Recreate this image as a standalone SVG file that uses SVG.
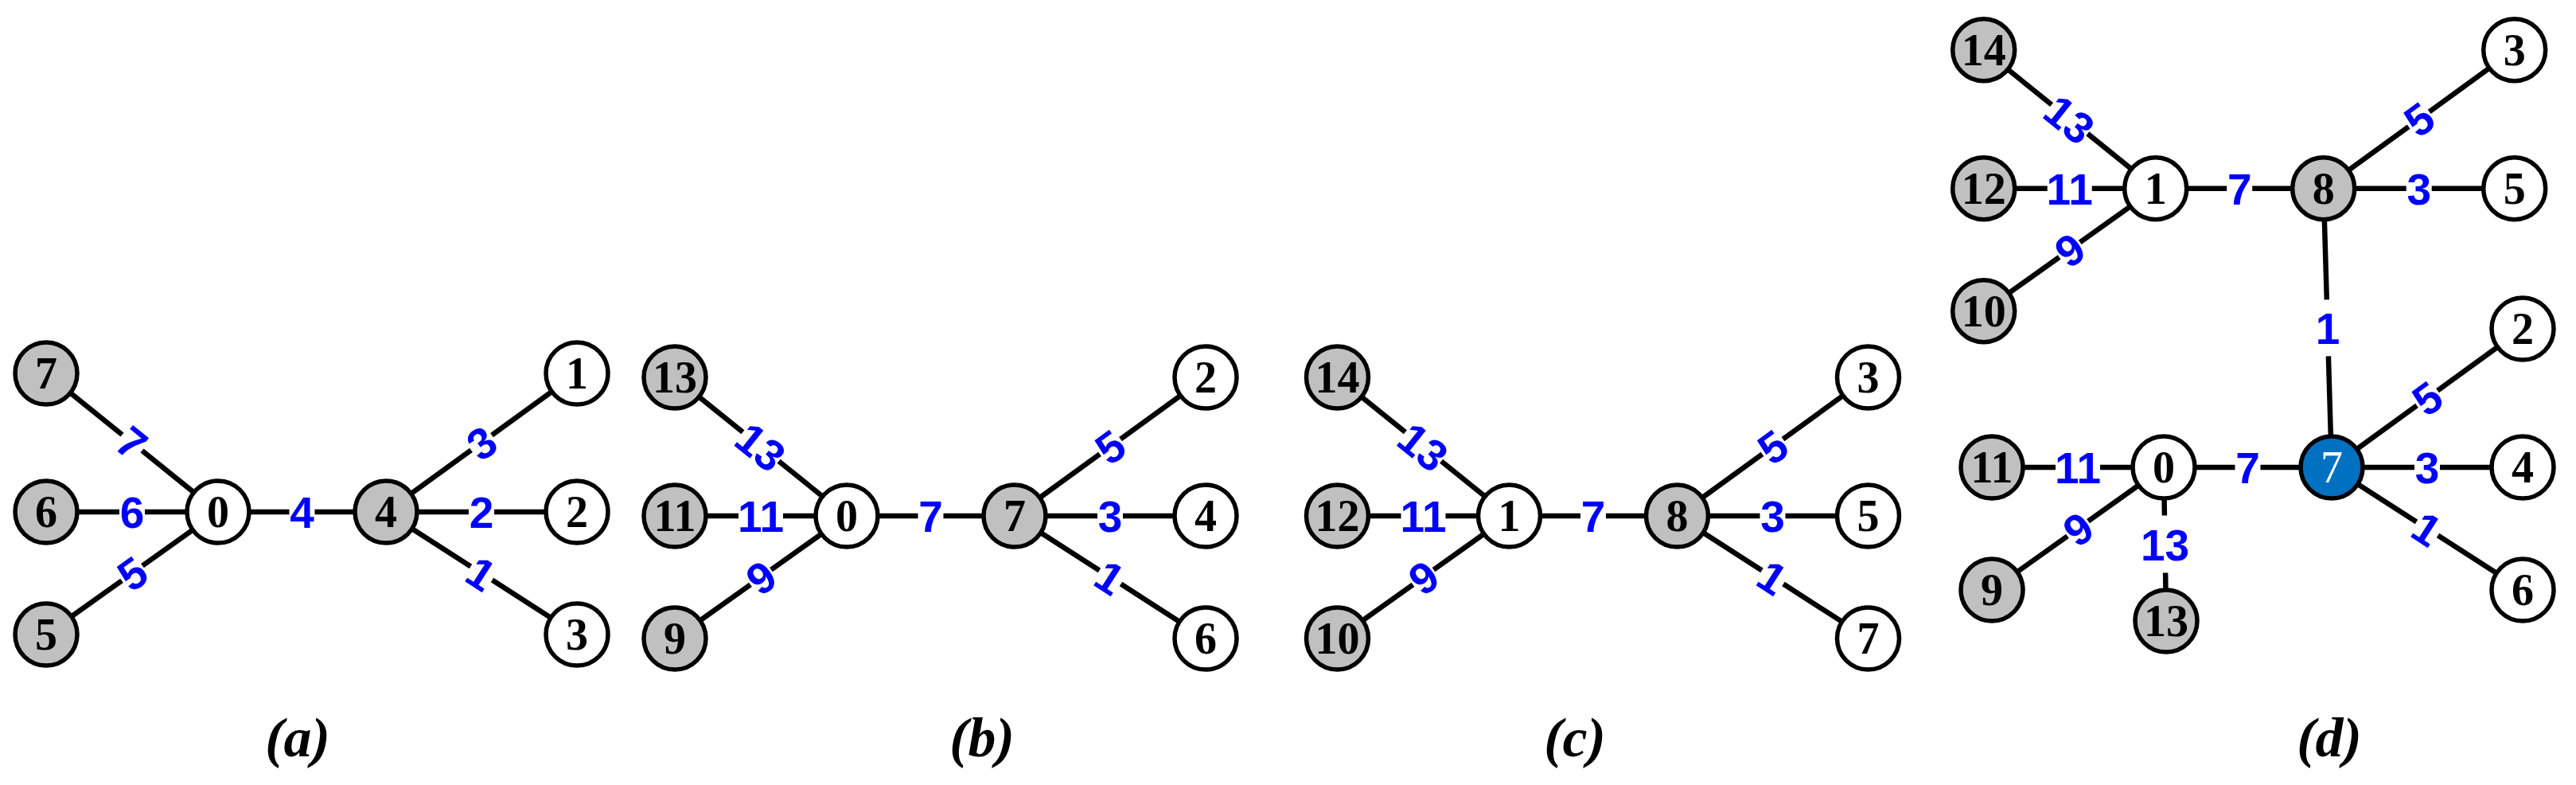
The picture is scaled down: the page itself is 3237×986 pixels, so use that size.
<svg xmlns="http://www.w3.org/2000/svg" width="3237" height="986" viewBox="0 0 3237 986">
<style>
.e{fill:none;stroke:#000;stroke-width:6.5}
.n{stroke:#000;stroke-width:5.5}
.g{fill:#C0C0C0}
.w{fill:#FFFFFF}
.b{fill:#0070C0}
.nt{font-family:"Liberation Serif","Times New Roman",serif;font-weight:bold;font-size:56px;text-anchor:middle;fill:#000}
.wt{fill:#FFFFFF;font-weight:normal}
.el{font-family:"Liberation Sans",Arial,sans-serif;font-weight:bold;font-size:55px;text-anchor:middle;fill:#0000FF}
.cap{font-family:"Liberation Serif","Times New Roman",serif;font-weight:bold;font-style:italic;font-size:70px;text-anchor:middle;fill:#000}
</style>
<rect width="3237" height="986" fill="#FFFFFF"/>

<!-- Panel (a) -->
<g id="panel-a" transform="translate(58,643)">
  <g id="a-connectors">
    <path class="e" d="M0,-174L95.5,-97M120.5,-77L216,0"/>
    <path class="e" d="M0,0L92,0M124,0L216,0"/>
    <path class="e" d="M0,154L95,86.3M121,67.7L216,0"/>
    <path class="e" d="M216,0L305.5,0M337.5,0L427,0"/>
    <path class="e" d="M427,0L534,-77.6M560,-96.4L667,-174"/>
    <path class="e" d="M427,0L531,0M563,0L667,0"/>
    <path class="e" d="M427,0L533.5,68.4M560.5,85.6L667,154"/>
    <text class="el" transform="translate(108,-87) rotate(38.86)" y="20">7</text>
    <text class="el" x="108" y="20">6</text>
    <text class="el" transform="translate(108,77) rotate(-35.49)" y="20">5</text>
    <text class="el" x="321.5" y="20">4</text>
    <text class="el" transform="translate(547,-87) rotate(-35.94)" y="20">3</text>
    <text class="el" x="547" y="20">2</text>
    <text class="el" transform="translate(547,77) rotate(32.69)" y="20">1</text>
  </g>
  <g id="a-n7"><circle class="n g" cx="0" cy="-174" r="39"/><text class="nt" x="0" y="-155">7</text></g>
  <g id="a-n6"><circle class="n g" cx="0" cy="0" r="39"/><text class="nt" x="0" y="19">6</text></g>
  <g id="a-n5"><circle class="n g" cx="0" cy="154" r="39"/><text class="nt" x="0" y="173">5</text></g>
  <g id="a-n0"><circle class="n w" cx="216" cy="0" r="39"/><text class="nt" x="216" y="19">0</text></g>
  <g id="a-n4"><circle class="n g" cx="427" cy="0" r="39"/><text class="nt" x="427" y="19">4</text></g>
  <g id="a-n1"><circle class="n w" cx="667" cy="-174" r="39"/><text class="nt" x="667" y="-155">1</text></g>
  <g id="a-n2"><circle class="n w" cx="667" cy="0" r="39"/><text class="nt" x="667" y="19">2</text></g>
  <g id="a-n3"><circle class="n w" cx="667" cy="154" r="39"/><text class="nt" x="667" y="173">3</text></g>
</g>

<!-- Panel (b) -->
<g id="panel-b" transform="translate(848,648)">
  <g id="b-connectors">
    <path class="e" d="M0,-174L85.4,-105.2M130.6,-68.8L216,0"/>
    <path class="e" d="M0,0L80,0M136,0L216,0"/>
    <path class="e" d="M0,154L95,86.3M121,67.7L216,0"/>
    <path class="e" d="M216,0L305.5,0M337.5,0L427,0"/>
    <path class="e" d="M427,0L534,-77.6M560,-96.4L667,-174"/>
    <path class="e" d="M427,0L531,0M563,0L667,0"/>
    <path class="e" d="M427,0L533.5,68.4M560.5,85.6L667,154"/>
    <text class="el" transform="translate(108,-87) rotate(38.86)" y="20">13</text>
    <text class="el" x="108" y="20">11</text>
    <text class="el" transform="translate(108,77) rotate(-35.49)" y="20">9</text>
    <text class="el" x="321.5" y="20">7</text>
    <text class="el" transform="translate(547,-87) rotate(-35.94)" y="20">5</text>
    <text class="el" x="547" y="20">3</text>
    <text class="el" transform="translate(547,77) rotate(32.69)" y="20">1</text>
  </g>
  <g id="b-n13"><circle class="n g" cx="0" cy="-174" r="39"/><text class="nt" x="0" y="-155">13</text></g>
  <g id="b-n11"><circle class="n g" cx="0" cy="0" r="39"/><text class="nt" x="0" y="19">11</text></g>
  <g id="b-n9"><circle class="n g" cx="0" cy="154" r="39"/><text class="nt" x="0" y="173">9</text></g>
  <g id="b-n0"><circle class="n w" cx="216" cy="0" r="39"/><text class="nt" x="216" y="19">0</text></g>
  <g id="b-n7"><circle class="n g" cx="427" cy="0" r="39"/><text class="nt" x="427" y="19">7</text></g>
  <g id="b-n2"><circle class="n w" cx="667" cy="-174" r="39"/><text class="nt" x="667" y="-155">2</text></g>
  <g id="b-n4"><circle class="n w" cx="667" cy="0" r="39"/><text class="nt" x="667" y="19">4</text></g>
  <g id="b-n6"><circle class="n w" cx="667" cy="154" r="39"/><text class="nt" x="667" y="173">6</text></g>
</g>

<!-- Panel (c) -->
<g id="panel-c" transform="translate(1680.5,648)">
  <g id="c-connectors">
    <path class="e" d="M0,-174L85.4,-105.2M130.6,-68.8L216,0"/>
    <path class="e" d="M0,0L80,0M136,0L216,0"/>
    <path class="e" d="M0,154L95,86.3M121,67.7L216,0"/>
    <path class="e" d="M216,0L305.5,0M337.5,0L427,0"/>
    <path class="e" d="M427,0L534,-77.6M560,-96.4L667,-174"/>
    <path class="e" d="M427,0L531,0M563,0L667,0"/>
    <path class="e" d="M427,0L533.5,68.4M560.5,85.6L667,154"/>
    <text class="el" transform="translate(108,-87) rotate(38.86)" y="20">13</text>
    <text class="el" x="108" y="20">11</text>
    <text class="el" transform="translate(108,77) rotate(-35.49)" y="20">9</text>
    <text class="el" x="321.5" y="20">7</text>
    <text class="el" transform="translate(547,-87) rotate(-35.94)" y="20">5</text>
    <text class="el" x="547" y="20">3</text>
    <text class="el" transform="translate(547,77) rotate(32.69)" y="20">1</text>
  </g>
  <g id="c-n14"><circle class="n g" cx="0" cy="-174" r="39"/><text class="nt" x="0" y="-155">14</text></g>
  <g id="c-n12"><circle class="n g" cx="0" cy="0" r="39"/><text class="nt" x="0" y="19">12</text></g>
  <g id="c-n10"><circle class="n g" cx="0" cy="154" r="39"/><text class="nt" x="0" y="173">10</text></g>
  <g id="c-n1"><circle class="n w" cx="216" cy="0" r="39"/><text class="nt" x="216" y="19">1</text></g>
  <g id="c-n8"><circle class="n g" cx="427" cy="0" r="39"/><text class="nt" x="427" y="19">8</text></g>
  <g id="c-n3"><circle class="n w" cx="667" cy="-174" r="39"/><text class="nt" x="667" y="-155">3</text></g>
  <g id="c-n5"><circle class="n w" cx="667" cy="0" r="39"/><text class="nt" x="667" y="19">5</text></g>
  <g id="c-n7"><circle class="n w" cx="667" cy="154" r="39"/><text class="nt" x="667" y="173">7</text></g>
</g>

<!-- Panel (d) link between clusters -->
<g id="d-link">
  <path class="e" d="M2919.7,236.7L2923.8,376.4M2925.9,447.4L2930,587"/>
  <text class="el" x="2925" y="432">1</text>
</g>

<!-- Panel (d) top -->
<g id="panel-d-top" transform="translate(2492.7,236.7)">
  <g id="dt-connectors">
    <path class="e" d="M0,-174L85.4,-105.2M130.6,-68.8L216,0"/>
    <path class="e" d="M0,0L80,0M136,0L216,0"/>
    <path class="e" d="M0,154L95,86.3M121,67.7L216,0"/>
    <path class="e" d="M216,0L305.5,0M337.5,0L427,0"/>
    <path class="e" d="M427,0L534,-77.6M560,-96.4L667,-174"/>
    <path class="e" d="M427,0L531,0M563,0L667,0"/>
    <text class="el" transform="translate(108,-87) rotate(38.86)" y="20">13</text>
    <text class="el" x="108" y="20">11</text>
    <text class="el" transform="translate(108,77) rotate(-35.49)" y="20">9</text>
    <text class="el" x="321.5" y="20">7</text>
    <text class="el" transform="translate(547,-87) rotate(-35.94)" y="20">5</text>
    <text class="el" x="547" y="20">3</text>
  </g>
  <g id="d-n14"><circle class="n g" cx="0" cy="-174" r="39"/><text class="nt" x="0" y="-155">14</text></g>
  <g id="d-n12"><circle class="n g" cx="0" cy="0" r="39"/><text class="nt" x="0" y="19">12</text></g>
  <g id="d-n10"><circle class="n g" cx="0" cy="154" r="39"/><text class="nt" x="0" y="173">10</text></g>
  <g id="d-n1"><circle class="n w" cx="216" cy="0" r="39"/><text class="nt" x="216" y="19">1</text></g>
  <g id="d-n8"><circle class="n g" cx="427" cy="0" r="39"/><text class="nt" x="427" y="19">8</text></g>
  <g id="d-n3"><circle class="n w" cx="667" cy="-174" r="39"/><text class="nt" x="667" y="-155">3</text></g>
  <g id="d-n5"><circle class="n w" cx="667" cy="0" r="39"/><text class="nt" x="667" y="19">5</text></g>
</g>

<!-- Panel (d) bottom -->
<g id="panel-d-bottom" transform="translate(2503,587)">
  <g id="db-connectors">
    <path class="e" d="M0,0L80,0M136,0L216,0"/>
    <path class="e" d="M0,154L95,86.3M121,67.7L216,0"/>
    <path class="e" d="M216,0L216.9,60.5M218.1,132.5L219,193"/>
    <path class="e" d="M216,0L305.5,0M337.5,0L427,0"/>
    <path class="e" d="M427,0L534,-77.6M560,-96.4L667,-174"/>
    <path class="e" d="M427,0L531,0M563,0L667,0"/>
    <path class="e" d="M427,0L533.5,68.4M560.5,85.6L667,154"/>
    <text class="el" x="108" y="20">11</text>
    <text class="el" transform="translate(108,77) rotate(-35.49)" y="20">9</text>
    <text class="el" x="217.5" y="116.5">13</text>
    <text class="el" x="321.5" y="20">7</text>
    <text class="el" transform="translate(547,-87) rotate(-35.94)" y="20">5</text>
    <text class="el" x="547" y="20">3</text>
    <text class="el" transform="translate(547,77) rotate(32.69)" y="20">1</text>
  </g>
  <g id="d-n11"><circle class="n g" cx="0" cy="0" r="39"/><text class="nt" x="0" y="19">11</text></g>
  <g id="d-n9"><circle class="n g" cx="0" cy="154" r="39"/><text class="nt" x="0" y="173">9</text></g>
  <g id="d-n0"><circle class="n w" cx="216" cy="0" r="39"/><text class="nt" x="216" y="19">0</text></g>
  <g id="d-n13"><circle class="n g" cx="219" cy="193" r="39"/><text class="nt" x="219" y="212">13</text></g>
  <g id="d-n7"><circle class="n b" cx="427" cy="0" r="39"/><text class="nt wt" x="427" y="19">7</text></g>
  <g id="d-n2"><circle class="n w" cx="667" cy="-174" r="39"/><text class="nt" x="667" y="-155">2</text></g>
  <g id="d-n4"><circle class="n w" cx="667" cy="0" r="39"/><text class="nt" x="667" y="19">4</text></g>
  <g id="d-n6"><circle class="n w" cx="667" cy="154" r="39"/><text class="nt" x="667" y="173">6</text></g>
</g>

<!-- Captions -->
<g id="captions">
  <text class="cap" x="374" y="950">(a)</text>
  <text class="cap" x="1234" y="950">(b)</text>
  <text class="cap" x="1979" y="950">(c)</text>
  <text class="cap" x="2927" y="950">(d)</text>
</g>
</svg>
